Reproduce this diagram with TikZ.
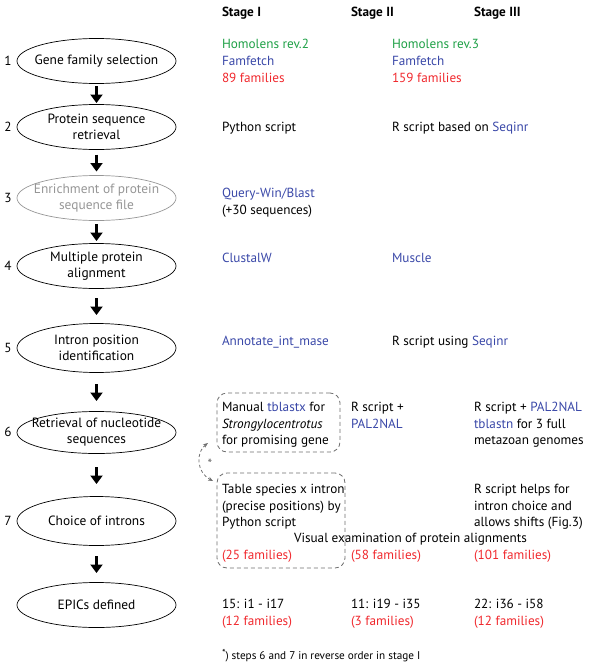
\documentclass[tikz,border=0pt]{standalone}
\usepackage{fontspec}
\setmainfont{PT Sans}
\usetikzlibrary{shapes.geometric,arrows.meta,calc}
\definecolor{tgreen}{RGB}{30,160,70}
\definecolor{tblue}{RGB}{58,72,168}
\definecolor{tred}{RGB}{240,40,45}
\definecolor{tgray}{RGB}{150,150,150}
\definecolor{dgray}{RGB}{110,110,110}
\begin{document}
\begin{tikzpicture}[x=1pt,y=-1pt,
  every node/.style={inner sep=0pt,outer sep=0pt,font=\fontsize{13.2}{15}\selectfont},
  oval/.style={draw,ellipse,line width=0.7pt,minimum width=159pt,minimum height=45pt},
  ovaltxt/.style={align=center,font=\fontsize{13.4}{16}\selectfont},
  bigarrow/.style={line width=3.6pt,-{Triangle[width=12pt,length=8.5pt]}},
  txt/.style={anchor=base west},
  hdr/.style={anchor=base west,font=\fontsize{13.2}{15}\selectfont\bfseries},
  num/.style={anchor=center},
  dbox/.style={draw=dgray,dashed,dash pattern=on 4pt off 3pt,line width=0.8pt,rounded corners=10pt,anchor=north west}
]
\useasboundingbox (0,0) rectangle (600,664);

% ellipses
\node[oval] (e1) at (96.5,61) {};
\node[oval] (e2) at (96.5,127) {};
\node[oval,draw=tgray] (e3) at (96.5,198) {};
\node[oval] (e4) at (96.5,266) {};
\node[oval,minimum height=49pt] (e5) at (96.5,348) {};
\node[oval,minimum height=42pt] (e6) at (96.5,432.5) {};
\node[oval,minimum height=49pt] (e7) at (96.5,521) {};
\node[oval] (e8) at (96.5,605) {};

\node[ovaltxt] (t1) at (e1) {Gene family selection};
\node[ovaltxt] (t2) at (e2) {Protein sequence\\retrieval};
\node[ovaltxt,text=tgray] (t3) at (e3) {Enrichment of protein\\sequence file};
\node[ovaltxt] (t4) at (e4) {Multiple protein\\alignment};
\node[ovaltxt] (t5) at (e5) {Intron position\\identification};
\node[ovaltxt] (t6) at (e6) {Retrieval of nucleotide\\sequences};
\node[ovaltxt] (t7) at (e7) {Choice of introns};
\node[ovaltxt] (t8) at (e8) {EPICs defined};

% numbers
\node[num] (n1) at (8,61) {1};
\node[num] (n2) at (8,127) {2};
\node[num] (n3) at (8,198) {3};
\node[num] (n4) at (8,266) {4};
\node[num] (n5) at (8,348) {5};
\node[num] (n6) at (8,432) {6};
\node[num] (n7) at (8,521) {7};

% arrows
\foreach \a/\b in {e1/e2,e2/e3,e3/e4,e4/e5,e5/e6,e6/e7,e7/e8}{
  \draw[bigarrow] ($(\a.south)!0.5!(\b.north)+(0,-8)$) -- ($(\a.south)!0.5!(\b.north)+(0,9)$);
}

% headers
\node[hdr] (h1) at (222,16) {Stage I};
\node[hdr] (h2) at (351,16) {Stage II};
\node[hdr] (h3) at (474,16) {Stage III};

% row 1
\node[txt,text=tgreen] (r1a) at (222,48.5) {Homolens rev.2};
\node[txt,text=tblue] (r1b) at (222,65.5) {Famfetch};
\node[txt,text=tred] (r1c) at (222,82.5) {89 families};
\node[txt,text=tgreen] (r1d) at (392,48.5) {Homolens rev.3};
\node[txt,text=tblue] (r1e) at (392,65.5) {Famfetch};
\node[txt,text=tred] (r1f) at (392,82.5) {159 families};

% row 2
\node[txt] (r2a) at (222,131.5) {Python script};
\node[txt] (r2b) at (392,131.5) {R script based on \textcolor{tblue}{Seqinr}};

% row 3
\node[txt,text=tblue] (r3a) at (222,197.5) {Query-Win/Blast};
\node[txt] (r3b) at (222,214.5) {(+30 sequences)};

% row 4
\node[txt,text=tblue] (r4a) at (222,262.5) {ClustalW};
\node[txt,text=tblue] (r4b) at (392,262.5) {Muscle};

% row 5
\node[txt,text=tblue] (r5a) at (222,345.5) {Annotate\_int\_mase};
\node[txt] (r5b) at (392,345.5) {R script using \textcolor{tblue}{Seqinr}};

% row 6
\node[txt] (r6a) at (222,411.5) {Manual \textcolor{tblue}{tblastx} for};
\node[txt] (r6b) at (222,428) {\itshape Strongylocentrotus};
\node[txt] (r6c) at (222,444.5) {for promising gene};
\node[txt] (r6d) at (351,411.5) {R script +};
\node[txt,text=tblue] (r6e) at (351,428) {PAL2NAL};
\node[txt] (r6f) at (474,411.5) {R script + \textcolor{tblue}{PAL2NAL}};
\node[txt] (r6g) at (474,428) {\textcolor{tblue}{tblastn} for 3 full};
\node[txt] (r6h) at (474,444.5) {metazoan genomes};

% row 7
\node[txt] (r7a) at (222,493.5) {Table species x intron};
\node[txt] (r7b) at (222,510.5) {(precise positions) by};
\node[txt] (r7c) at (222,526.5) {Python script};
\node[txt] (r7d) at (474,493.5) {R script helps for};
\node[txt] (r7e) at (474,510.5) {intron choice and};
\node[txt] (r7f) at (474,526.5) {allows shifts (Fig.3)};
\node[txt] (r7g) at (294,542.5) {Visual examination of protein alignments};
\node[txt,text=tred] (r7h) at (222,559.5) {(25 families)};
\node[txt,text=tred] (r7i) at (351,559.5) {(58 families)};
\node[txt,text=tred] (r7j) at (474,559.5) {(101 families)};

% row 8
\node[txt] (r8a) at (222,608.5) {15: i1 - i17};
\node[txt,text=tred] (r8b) at (222,625.5) {(12 families)};
\node[txt] (r8c) at (351,608.5) {11: i19 - i35};
\node[txt,text=tred] (r8d) at (351,625.5) {(3 families)};
\node[txt] (r8e) at (474,608.5) {22: i36 - i58};
\node[txt,text=tred] (r8f) at (474,625.5) {(12 families)};

% footnote
\node[txt,font=\fontsize{11.2}{13}\selectfont] (fn) at (222,659) {\raisebox{2.5pt}{\fontsize{10}{10}\selectfont *}) steps 6 and 7 in reverse order in stage I};

% dashed boxes
\node[dbox,minimum width=123pt,minimum height=59pt] (b1) at (217,393) {};
\node[dbox,minimum width=128pt,minimum height=95pt] (b2) at (217,473) {};

% curved dashed arrow
\coordinate (a1) at ($(b1.south west)+(-9,-9)$);
\coordinate (a2) at ($(b2.north west)+(-4,8)$);
\draw[draw=dgray,dashed,dash pattern=on 3pt off 2.5pt,line width=0.8pt,{Stealth[length=5pt,width=4pt]}-{Stealth[length=5pt,width=4pt]}]
  (a1) .. controls (196,452) and (196,472) .. (a2);
\node[text=dgray] (star) at (210,464) {*};
\end{tikzpicture}
\end{document}
